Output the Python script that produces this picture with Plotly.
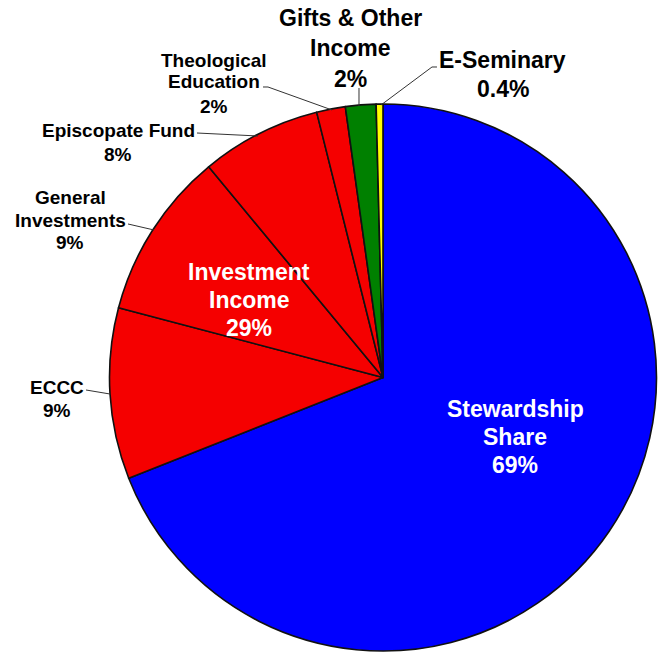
import plotly.graph_objects as go

W, H = 658, 653

# ---- data ----
categories = ["Stewardship Share", "ECCC", "General Investments", "Episcopate Fund",
              "Theological Education", "Gifts & Other Income", "E-Seminary"]
values = [69.0, 10.1, 9.9, 7.1, 1.7, 1.8, 0.4]
pct_labels = ["69%", "9%", "9%", "8%", "2%", "2%", "0.4%"]
group_label = "Investment Income"
group_pct = "29%"
colors = ["#0000FF", "#F50000", "#F50000", "#F50000", "#F50000", "#008000", "#FFFF00"]

FONT = "Liberation Sans, Arial, sans-serif"

def px(x):
    return x / W

def py(y):
    return 1 - y / H

fig = go.Figure(go.Pie(
    labels=categories,
    values=values,
    sort=False,
    direction="clockwise",
    rotation=0,
    marker=dict(colors=colors, line=dict(color="#111111", width=1.6)),
    textinfo="none",
    hoverinfo="label+percent",
    showlegend=False,
    domain=dict(x=[px(109), px(657)], y=[py(651), py(104)]),
))

annotations = []

def add_lines(lines, cx, ys, size, color="black"):
    for t, y in zip(lines, ys):
        annotations.append(dict(
            x=px(cx), y=py(y), xref="paper", yref="paper",
            text="<b>" + t + "</b>", showarrow=False,
            xanchor="center", yanchor="middle",
            font=dict(family=FONT, size=size, color=color)))

# outer labels
add_lines(["Gifts & Other", "Income", pct_labels[5]], 350, [18, 48, 79], 23)
add_lines(["E-Seminary", pct_labels[6]], 503, [60, 89], 23)
add_lines(["Theological", "Education", pct_labels[4]], 214, [60, 82, 106], 19)
add_lines(["Episcopate Fund", pct_labels[3]], 118, [130, 154], 19)
add_lines(["General", "Investments", pct_labels[2]], 70, [198, 220, 243], 19)
add_lines([categories[1], pct_labels[1]], 57, [387, 410], 19)

# inner labels
add_lines(group_label.split(" ") + [group_pct], 249, [272, 300, 328], 23, "white")
add_lines(["Stewardship", "Share", pct_labels[0]], 515, [409, 437, 465], 23, "white")

# leader lines (pixel coords)
leaders = [
    [(263, 87), (268, 87), (332, 110)],
    [(197, 133), (258, 136)],
    [(128, 224), (154, 230)],
    [(86, 390), (110, 394)],
    [(359, 88), (359, 106)],
    [(437, 67), (432, 67), (381, 105)],
]
shapes = []
for pts in leaders:
    path = "M " + " L ".join(f"{px(x):.5f},{py(y):.5f}" for x, y in pts)
    shapes.append(dict(type="path", path=path, xref="paper", yref="paper",
                       line=dict(color="#333333", width=1)))

fig.update_layout(
    width=W, height=H,
    margin=dict(l=0, r=0, t=0, b=0),
    paper_bgcolor="white", plot_bgcolor="white",
    annotations=annotations,
    shapes=shapes,
)

fig.write_html("out.html")
